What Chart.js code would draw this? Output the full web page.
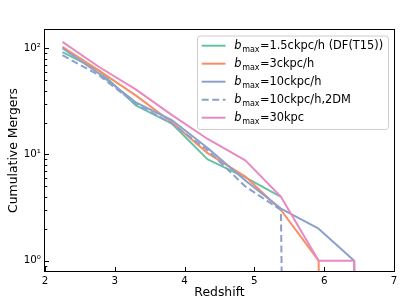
<!DOCTYPE html>
<html><head><meta charset="utf-8">
<script src="https://cdn.jsdelivr.net/npm/chart.js@4/dist/chart.umd.min.js"></script>
<style>html,body{margin:0;padding:0;background:#fff}canvas{display:block}</style>
</head><body>
<canvas id="c" width="415" height="305"></canvas>
<script>
// ---- data ----
const redshift   = [2.25, 2.77, 3.30, 3.82, 4.33, 4.87, 5.38, 5.92, 6.43, 6.95];
const bmax1p5    = [92, 62, 29, 19.5, 9.0, 6.1, 4.0, null, null, null];
const bmax3      = [103, 62, 36, 20, 10.3, 6.2, 3.0, 1, 0, 0];
const bmax10     = [100, 58, 31, 21, 11.5, 5.7, 3.1, 2, 1, 0];
const bmax10_2DM = [86, 56, 30, 19.5, 11.0, 5.0, 3.0, 0, 0, 0];
const bmax30     = [115, 67, 41, 23.5, 14, 8.8, 4.0, 1, 1, 0];
const legendRest = ['=1.5ckpc/h (DF(T15))', '=3ckpc/h', '=10ckpc/h', '=10ckpc/h,2DM', '=30kpc'];
const xTicks = [2, 3, 4, 5, 6, 7];
const yMajorTicks = [1, 10, 100];

const seriesValues = [bmax1p5, bmax3, bmax10, bmax10_2DM, bmax30];
const colors = ['#66c2a5', '#fc8d62', '#8da0cb', '#8da0cb', '#e78ac3'];
const dashes = [[], [], [], [7, 3.5], []];
const FONT = 'DejaVu Sans';
const sup = {'0':'\u2070','1':'\u00b9','2':'\u00b2'};

// zero counts cannot be shown on a log axis: they drop off the bottom (as matplotlib clips them)
const toLog = v => (v === 0 ? 1e-30 : v);

const datasets = seriesValues.map((vals, i) => ({
  label: 'b' + 'max' + legendRest[i],
  data: redshift.map((z, k) => ({x: z, y: vals[k] === null ? null : toLog(vals[k])})),
  borderColor: colors[i],
  backgroundColor: colors[i],
  borderWidth: 2,
  borderDash: dashes[i],
  pointRadius: 0,
  tension: 0,
  fill: false,
  spanGaps: false,
  borderJoinStyle: 'round',
  order: seriesValues.length - i
}));

const decor = {
  id: 'decor',
  afterDatasetsDraw(chart) {
    const {ctx, chartArea: a, scales: {x, y}} = chart;
    ctx.save();
    ctx.strokeStyle = '#000';
    ctx.lineWidth = 1;
    const seg = (x1, y1, x2, y2) => { ctx.beginPath(); ctx.moveTo(x1, y1); ctx.lineTo(x2, y2); ctx.stroke(); };
    xTicks.forEach(v => { const p = Math.round(x.getPixelForValue(v)) + 0.5; seg(p, a.bottom, p, a.bottom - 4); });
    yMajorTicks.forEach(v => { const p = Math.round(y.getPixelForValue(v)) + 0.5; seg(a.left, p, a.left + 4, p); });
    for (let k = -1; k <= 2; k++) for (let d = 2; d <= 9; d++) {
      const v = d * Math.pow(10, k);
      if (v <= y.min || v >= y.max) continue;
      const p = Math.round(y.getPixelForValue(v)) + 0.5;
      seg(a.left, p, a.left + 2.3, p);
    }
    ctx.strokeRect(Math.round(a.left) - 0.5, Math.round(a.top) - 0.5, Math.round(a.right - a.left) + 1, Math.round(a.bottom - a.top) + 1);

    // legend
    const bx = 197.5, by = 36, bw = 191, bh = 93.5, r = 3;
    ctx.beginPath();
    ctx.moveTo(bx + r, by); ctx.lineTo(bx + bw - r, by); ctx.arcTo(bx + bw, by, bx + bw, by + r, r);
    ctx.lineTo(bx + bw, by + bh - r); ctx.arcTo(bx + bw, by + bh, bx + bw - r, by + bh, r);
    ctx.lineTo(bx + r, by + bh); ctx.arcTo(bx, by + bh, bx, by + bh - r, r);
    ctx.lineTo(bx, by + r); ctx.arcTo(bx, by, bx + r, by, r); ctx.closePath();
    ctx.fillStyle = 'rgba(255,255,255,0.8)'; ctx.fill();
    ctx.strokeStyle = '#cccccc'; ctx.lineWidth = 1; ctx.stroke();
    datasets.forEach((ds, i) => {
      const cy = 45.7 + 18 * i;
      ctx.strokeStyle = ds.borderColor; ctx.lineWidth = 2; ctx.setLineDash(ds.borderDash);
      seg(201.7, cy, 225.5, cy);
      ctx.setLineDash([]);
      ctx.fillStyle = '#000'; ctx.textBaseline = 'alphabetic'; ctx.textAlign = 'left';
      let tx = 234.3;
      const base = cy + 3.4;
      ctx.font = 'italic 11.4px "' + FONT + '"';
      ctx.fillText('b', tx, base); tx += ctx.measureText('b').width + 0.6;
      ctx.font = '8px "' + FONT + '"';
      ctx.fillText('max', tx, base + 2.6); tx += ctx.measureText('max').width + 0.4;
      ctx.font = '11.4px "' + FONT + '"';
      ctx.fillText(legendRest[i], tx, base);
    });
    ctx.restore();
  }
};

Chart.defaults.font.family = FONT;
Chart.defaults.color = '#000';

new Chart(document.getElementById('c'), {
  type: 'line',
  data: {datasets},
  options: {
    responsive: false,
    animation: false,
    events: [],
    layout: {padding: {top: 30, right: 21, left: 0, bottom: 0}},
    plugins: {legend: {display: false}, tooltip: {enabled: false}},
    scales: {
      x: {
        type: 'linear', min: 2, max: 7,
        afterBuildTicks: s => { s.ticks = xTicks.map(v => ({value: v})); },
        grid: {display: false, drawTicks: false},
        border: {display: false},
        ticks: {color: '#000', font: {size: 10.3}, padding: 4, maxRotation: 0, autoSkip: false},
        title: {display: true, text: 'Redshift', color: '#000', font: {size: 12.4}, padding: {top: 0, bottom: 4.5}},
        afterFit: s => { s.height = 34; }
      },
      y: {
        type: 'logarithmic', min: 0.8, max: 148.6,
        afterBuildTicks: s => { s.ticks = yMajorTicks.map(v => ({value: v, major: true})); },
        grid: {display: false, drawTicks: false},
        border: {display: false},
        ticks: {color: '#000', font: {size: 10.3}, padding: 4, autoSkip: false,
          callback: v => '10' + sup[String(Math.round(Math.log10(v)))]},
        title: {display: true, text: 'Cumulative Mergers', color: '#000', font: {size: 12.4}, padding: {top: 6.5, bottom: 0}},
        afterFit: s => { s.width = 45; }
      }
    }
  },
  plugins: [decor]
});
</script>
</body></html>
